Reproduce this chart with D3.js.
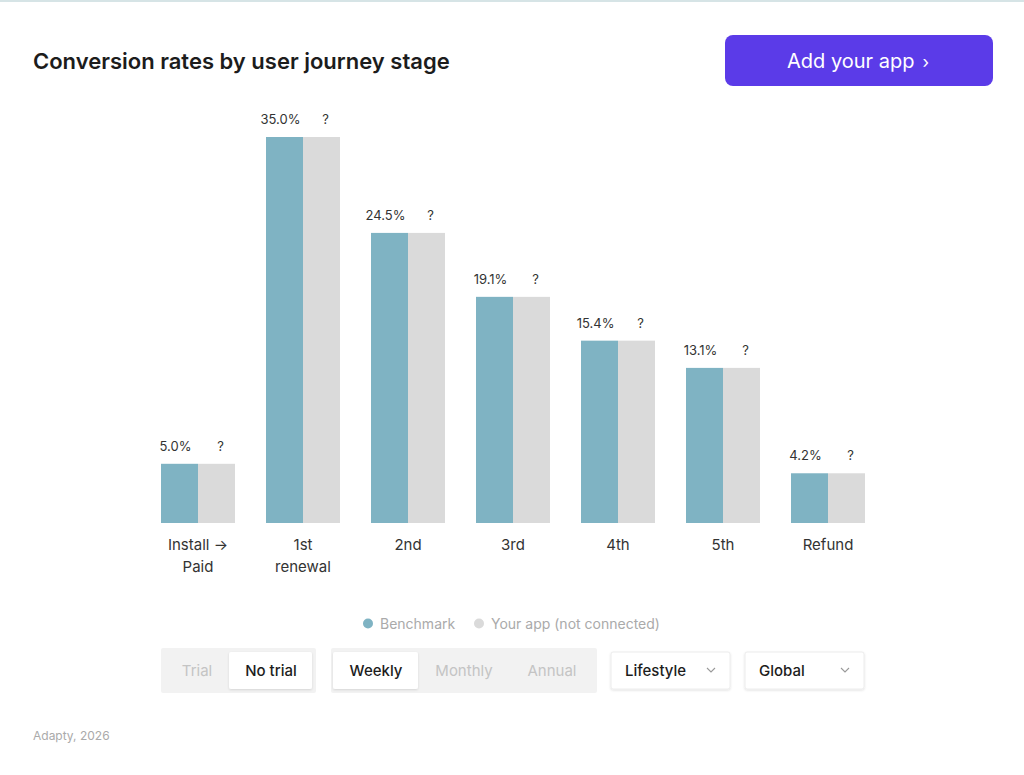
<!DOCTYPE html>
<html><head><meta charset="utf-8">
<script src="https://cdn.jsdelivr.net/npm/d3@7"></script>
<style>
html,body{margin:0;padding:0;background:#fff;}
svg{display:block;font-family:Inter,"Noto Sans",sans-serif;}
</style></head>
<body>
<svg id="chart" width="1024" height="775"></svg>
<script>
const categories = [["Install →","Paid"],["1st","renewal"],["2nd"],["3rd"],["4th"],["5th"],["Refund"]];
const benchmark = [5.0, 35.0, 24.5, 19.1, 15.4, 13.1, 4.2];
const benchmarkLabels = ["5.0%","35.0%","24.5%","19.1%","15.4%","13.1%","4.2%"];
const yourAppLabels = ["?","?","?","?","?","?","?"];
const seriesNames = ["Benchmark","Your app (not connected)"];
const seriesColors = ["#7fb3c3","#dadada"];
const yMax = 32.6; // visible plot ceiling (tallest bar is capped)

const svg = d3.select("#chart");
svg.append("rect").attr("x",0).attr("y",0).attr("width",1024).attr("height",2).attr("fill","#d6e4e6");

svg.append("text").attr("x",33).attr("y",69).attr("font-size",22).attr("font-weight",600)
  .attr("fill","#1c1c1c").text("Conversion rates by user journey stage");

svg.append("rect").attr("x",725).attr("y",35).attr("width",268).attr("height",51).attr("rx",8).attr("fill","#5b3be8");
const bt = svg.append("text").attr("x",858).attr("y",68).attr("text-anchor","middle").attr("font-size",20).attr("fill","#fff");
bt.append("tspan").text("Add your app");
bt.append("tspan").attr("dx",8).attr("font-size",17).text("\u203A");

const idx = d3.range(categories.length);
const x = d3.scaleBand().domain(idx).range([145.5,880.5]).paddingInner(31/105).paddingOuter(0.1476);
const xs = d3.scaleBand().domain([0,1]).range([0,x.bandwidth()]);
const y = d3.scaleLinear().domain([0,yMax]).range([523,137]).clamp(true);

const g = svg.append("g");
const grp = g.selectAll("g.grp").data(idx).join("g").attr("class","grp")
  .attr("transform",i=>`translate(${x(i)},0)`);

grp.append("rect").attr("x",xs(0)).attr("width",xs.bandwidth())
  .attr("y",i=>y(benchmark[i])).attr("height",i=>y(0)-y(benchmark[i])).attr("fill",seriesColors[0]);
grp.append("rect").attr("x",xs(1)).attr("width",xs.bandwidth())
  .attr("y",i=>y(benchmark[i])).attr("height",i=>y(0)-y(benchmark[i])).attr("fill",seriesColors[1]);

grp.append("text").attr("x",xs(0)+xs.bandwidth()/2-4).attr("y",i=>y(benchmark[i])-13)
  .attr("text-anchor","middle").attr("font-size",13).attr("fill","#333").text(i=>benchmarkLabels[i]);
grp.append("text").attr("x",xs(1)+xs.bandwidth()/2+4).attr("y",i=>y(benchmark[i])-13)
  .attr("text-anchor","middle").attr("font-size",13).attr("fill","#333").text(i=>yourAppLabels[i]);

const cl = grp.append("text").attr("text-anchor","middle").attr("font-size",15).attr("fill","#333");
cl.selectAll("tspan").data(i=>categories[i].map(t=>({t,c:x.bandwidth()/2}))).join("tspan")
  .attr("x",d=>d.c).attr("y",(d,j)=>550+j*22).text(d=>d.t);

const leg = svg.append("g");
const legX = [368,479];
seriesNames.forEach((n,k)=>{
  leg.append("circle").attr("cx",legX[k]).attr("cy",623.5).attr("r",5).attr("fill",seriesColors[k]);
  leg.append("text").attr("x",legX[k]+12).attr("y",628.5).attr("font-size",14).attr("fill","#aaa").text(n);
});

const defs = svg.append("defs");
const f = defs.append("filter").attr("id","sh").attr("x","-10%").attr("y","-20%").attr("width","120%").attr("height","150%");
f.append("feDropShadow").attr("dx",0).attr("dy",1).attr("stdDeviation",1.2).attr("flood-color","#000").attr("flood-opacity",0.12);

function toggle(x0,w,items,activeIdx,xs2,boxes){
  svg.append("rect").attr("x",x0).attr("y",648).attr("width",w).attr("height",45).attr("fill","#f2f2f2").attr("rx",2);
  items.forEach((t,k)=>{
    if(k===activeIdx){
      svg.append("rect").attr("x",boxes[0]).attr("y",652).attr("width",boxes[1]).attr("height",37).attr("fill","#fff").attr("rx",2).attr("filter","url(#sh)");
    }
    svg.append("text").attr("x",xs2[k]).attr("y",676).attr("text-anchor","middle").attr("font-size",15)
      .attr("font-weight",k===activeIdx?500:400).attr("fill",k===activeIdx?"#1c1c1c":"#c4c4c4").text(t);
  });
}
toggle(161,155,["Trial","No trial"],1,[197,271],[229,83]);
toggle(331,266,["Weekly","Monthly","Annual"],0,[376,464,552],[333,85]);

function dropdown(x0,label){
  svg.append("rect").attr("x",x0).attr("y",652).attr("width",119).attr("height",37).attr("fill","#fff").attr("rx",2)
    .attr("stroke","#ececec").attr("filter","url(#sh)");
  svg.append("text").attr("x",x0+14).attr("y",676).attr("font-size",15).attr("font-weight",500).attr("fill","#1c1c1c").text(label);
  svg.append("path").attr("d",`M${x0+96},${668} l4,4 l4,-4`).attr("fill","none").attr("stroke","#999").attr("stroke-width",1.1);
}
dropdown(611,"Lifestyle");
dropdown(745,"Global");

svg.append("text").attr("x",33).attr("y",740).attr("font-size",12).attr("fill","#aaa").text("Adapty, 2026");
</script>
</body></html>
